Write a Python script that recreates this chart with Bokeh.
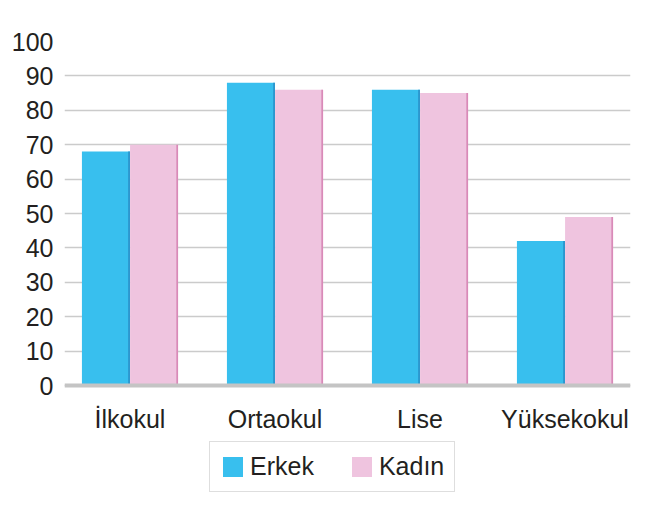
from bokeh.plotting import figure
from bokeh.models import FactorRange, Range1d, ColumnDataSource, Legend, LegendItem, Span, FixedTicker, CategoricalAxis
from bokeh.transform import dodge
from bokeh.embed import file_html
from bokeh.resources import INLINE

categories = ["İlkokul", "Ortaokul", "Lise", "Yüksekokul"]
erkek = [68, 88, 86, 42]
kadin = [70, 86, 85, 49]
series_names = ["Erkek", "Kadın"]
y_ticks = [0, 10, 20, 30, 40, 50, 60, 70, 80, 90, 100]

src = ColumnDataSource(dict(cat=categories, erkek=erkek, kadin=kadin))

FONT = "Liberation Sans"
TXT = "#231f20"
FS = "25px"

p = figure(width=667, height=519, output_backend="svg", toolbar_location=None,
           x_range=FactorRange(factors=categories, range_padding=-0.0483, range_padding_units="absolute"),
           y_range=Range1d(-38.95, 100),
           x_axis_location=None,
           min_border_left=64, min_border_right=37, min_border_top=41, min_border_bottom=0)
p.outline_line_color = None
p.background_fill_color = "white"

xax = CategoricalAxis(fixed_location=0)
p.add_layout(xax, "below")

# grid
p.xgrid.grid_line_color = None
p.ygrid.grid_line_color = "#cbcbcb"
p.ygrid.grid_line_width = 1.5
p.yaxis.ticker = FixedTicker(ticks=y_ticks)

# floor shadow
p.add_layout(Span(location=0, dimension="width", line_color="#c4c4c4", line_width=4))

bw = 0.331
r1 = p.vbar(x=dodge("cat", -0.166, range=p.x_range), top="erkek", width=bw, source=src,
            fill_color="#38bfee", line_color=None)
r2 = p.vbar(x=dodge("cat", 0.166, range=p.x_range), top="kadin", width=bw, source=src,
            fill_color="#efc4df", line_color=None)
# darker right edges
p.vbar(x=dodge("cat", -0.166 + bw / 2 - 0.006, range=p.x_range), top="erkek", width=0.012, source=src,
       fill_color="#2b93cc", line_color=None)
p.vbar(x=dodge("cat", 0.166 + bw / 2 - 0.006, range=p.x_range), top="kadin", width=0.012, source=src,
       fill_color="#d98ab8", line_color=None)

for ax in (xax, p.yaxis[0]):
    ax.axis_line_color = None
    ax.major_tick_line_color = None
    ax.minor_tick_line_color = None
    ax.major_label_text_font = FONT
    ax.major_label_text_font_size = FS
    ax.major_label_text_color = TXT

p.yaxis.major_label_standoff = 5
xax.major_label_standoff = 13

legend = Legend(items=[LegendItem(label=series_names[0], renderers=[r1]),
                       LegendItem(label=series_names[1], renderers=[r2])],
                orientation="horizontal", location=(145, 27),
                glyph_width=25, glyph_height=25, label_height=25,
                label_text_font=FONT, label_text_font_size=FS, label_text_color=TXT,
                label_standoff=5, spacing=35, padding=10, margin=0,
                border_line_color="#bdbdbd", border_line_width=1.5,
                background_fill_color="white", background_fill_alpha=1)
p.add_layout(legend, "center")

open("out.html", "w").write(file_html(p, INLINE))
